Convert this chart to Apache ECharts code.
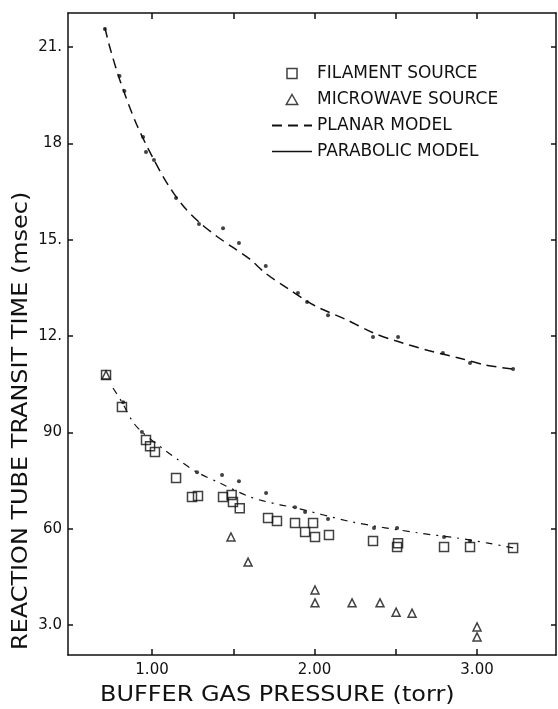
<!DOCTYPE html>
<html>
<head>
<meta charset="utf-8">
<script src="https://cdn.jsdelivr.net/npm/echarts@6/dist/echarts.min.js"></script>
<style>
  html, body { margin: 0; padding: 0; background: #fff; }
  #chart { width: 558px; height: 709px; }
</style>
</head>
<body>
<div id="chart"></div>
<script>
// upper branch: measured dots and planar model curve
const upperDotX = [0.71, 0.80, 0.83, 0.945, 0.963, 1.012, 1.148, 1.289, 1.437, 1.535, 1.70, 1.898, 1.954, 2.083, 2.36, 2.514, 2.79, 2.957, 3.222]
const upperDotY = [21.56, 20.10, 19.63, 18.20, 17.73, 17.48, 16.30, 15.49, 15.36, 14.90, 14.18, 13.34, 13.06, 12.65, 11.97, 11.97, 11.47, 11.16, 10.97]
const planarX = [0.71, 0.74, 0.80, 0.90, 1.00, 1.10, 1.20, 1.30, 1.40, 1.50, 1.60, 1.70, 1.83, 2.00, 2.20, 2.36, 2.50, 2.70, 2.90, 3.05, 3.22]
const planarY = [21.6, 21.0, 20.0, 18.65, 17.6, 16.7, 16.0, 15.5, 15.1, 14.75, 14.4, 13.95, 13.5, 12.95, 12.5, 12.1, 11.85, 11.55, 11.3, 11.1, 10.97]

// lower branch
const paraX = [0.76, 0.815, 0.883, 0.938, 1.062, 1.154, 1.277, 1.418, 1.603, 1.788, 1.868, 2.231, 2.637, 2.877, 3.068, 3.222]
const paraY = [10.38, 9.94, 9.32, 9.01, 8.51, 8.17, 7.76, 7.42, 6.99, 6.74, 6.67, 6.21, 5.87, 5.71, 5.55, 5.40]
const lowerDotX = [0.822, 0.938, 1.277, 1.431, 1.535, 1.702, 1.88, 1.942, 2.083, 2.366, 2.508, 2.797, 2.957]
const lowerDotY = [9.94, 9.01, 7.76, 7.67, 7.48, 7.11, 6.67, 6.52, 6.30, 6.02, 6.02, 5.74, 5.62]

// filament source (squares)
const filX = [0.717, 0.815, 0.963, 0.988, 1.018, 1.148, 1.246, 1.283, 1.437, 1.49, 1.498, 1.54, 1.714, 1.769, 1.88, 1.942, 1.991, 2.003, 2.089, 2.36, 2.508, 2.514, 2.797, 2.957, 3.222]
const filY = [10.79, 9.79, 8.76, 8.57, 8.39, 7.58, 6.99, 7.02, 6.99, 7.05, 6.83, 6.64, 6.33, 6.24, 6.18, 5.90, 6.18, 5.74, 5.80, 5.62, 5.43, 5.55, 5.43, 5.43, 5.40]

// microwave source (triangles)
const micX = [0.717, 1.486, 1.591, 2.003, 2.003, 2.231, 2.403, 2.502, 2.60, 3.0, 3.0]
const micY = [10.79, 5.74, 4.96, 4.09, 3.69, 3.69, 3.69, 3.40, 3.37, 2.94, 2.63]

// tick labels as printed
const xTickValues = [1, 2, 3]
const xTickLabels = ['1.00', '2.00', '3.00']
const xTickMarks = [1, 1.5, 2, 2.5, 3]
const yTickValues = [3, 6, 9, 12, 15, 18, 21]
const yTickLabels = ['3.0', '60', '90', '12.', '15.', '18', '21.']

const zip = (xs, ys) => xs.map((x, i) => [x, ys[i]])

const FONT = 'DejaVu Sans'
const INK = '#111'
const hollow = { color: 'rgba(0,0,0,0)', borderColor: INK, borderWidth: 1.5 }

const chart = echarts.init(document.getElementById('chart'))

const frameAxis = {
  axisLine: { show: true, lineStyle: { color: INK, width: 1.5 } },
  splitLine: { show: false }
}
const tickStyle = { color: INK, width: 1.5 }

const option = {
  animation: false,
  backgroundColor: '#fff',
  color: [INK],
  grid: { left: 68, right: 2, top: 13, bottom: 54 },
  legend: {
    orient: 'vertical',
    left: 266,
    top: 60,
    itemWidth: 40,
    itemHeight: 10,
    itemGap: 9,
    symbolKeepAspect: true,
    textStyle: { fontFamily: FONT, fontSize: 17, color: INK },
    data: [
      { name: 'FILAMENT SOURCE', icon: 'path://M0,0 H9 V9 H0 Z', itemStyle: hollow },
      { name: 'MICROWAVE SOURCE', icon: 'path://M4,0 L8,7 L0,7 Z', itemStyle: hollow },
      { name: 'PLANAR MODEL', itemStyle: { opacity: 0 } },
      { name: 'PARABOLIC MODEL', itemStyle: { opacity: 0 }, lineStyle: { type: 'solid', width: 1.5 } }
    ]
  },
  xAxis: [
    {
      type: 'value',
      min: 0.483,
      max: 3.486,
      ...frameAxis,
      axisTick: { show: true, inside: true, length: 6, customValues: xTickMarks, lineStyle: tickStyle },
      axisLabel: {
        customValues: xTickValues,
        formatter: v => xTickLabels[xTickValues.indexOf(v)],
        fontFamily: FONT, fontSize: 15, color: INK, margin: 8
      }
    },
    {
      type: 'value',
      position: 'top',
      min: 0.483,
      max: 3.486,
      ...frameAxis,
      axisTick: { show: true, inside: true, length: 6, customValues: xTickMarks, lineStyle: tickStyle },
      axisLabel: { show: false }
    }
  ],
  yAxis: [
    {
      type: 'value',
      min: 2.066,
      max: 22.06,
      ...frameAxis,
      axisTick: { show: true, inside: true, length: 5, customValues: yTickValues, lineStyle: tickStyle },
      axisLabel: {
        customValues: yTickValues,
        formatter: v => yTickLabels[yTickValues.indexOf(v)],
        fontFamily: FONT, fontSize: 15, color: INK, margin: 6
      }
    },
    {
      type: 'value',
      position: 'right',
      min: 2.066,
      max: 22.06,
      ...frameAxis,
      axisTick: { show: true, inside: true, length: 5, customValues: yTickValues, lineStyle: tickStyle },
      axisLabel: { show: false }
    }
  ],
  graphic: [
    {
      type: 'text',
      x: 100,
      y: 695,
      scaleX: 1.09,
      style: {
        text: 'BUFFER GAS PRESSURE (torr)', font: '22px "DejaVu Sans"', fill: INK,
        textAlign: 'left', textVerticalAlign: 'middle'
      }
    },
    {
      type: 'text',
      x: 22,
      y: 650,
      rotation: Math.PI / 2,
      scaleX: 1.14,
      style: {
        text: 'REACTION TUBE TRANSIT TIME (msec)', font: '21px "DejaVu Sans"', fill: INK,
        textAlign: 'left', textVerticalAlign: 'middle'
      }
    }
  ],
  series: [
    {
      name: 'PLANAR MODEL',
      type: 'line',
      data: zip(planarX, planarY),
      smooth: 0.3,
      symbol: 'none',
      itemStyle: { color: INK },
      lineStyle: { color: INK, width: 1.5, type: [10, 6] },
      z: 2
    },
    {
      name: 'PARABOLIC MODEL',
      type: 'line',
      data: zip(paraX, paraY),
      smooth: 0.3,
      symbol: 'none',
      itemStyle: { color: INK },
      lineStyle: { color: INK, width: 1.2, type: [7, 6, 2, 6] },
      z: 2
    },
    {
      name: 'upper dots',
      type: 'scatter',
      data: zip(upperDotX, upperDotY),
      symbol: 'circle',
      symbolSize: 4,
      itemStyle: { color: INK },
      z: 3
    },
    {
      name: 'lower dots',
      type: 'scatter',
      data: zip(lowerDotX, lowerDotY),
      symbol: 'circle',
      symbolSize: 4,
      itemStyle: { color: INK },
      z: 3
    },
    {
      name: 'FILAMENT SOURCE',
      type: 'scatter',
      data: zip(filX, filY),
      symbol: 'rect',
      symbolSize: 9,
      itemStyle: hollow,
      z: 4
    },
    {
      name: 'MICROWAVE SOURCE',
      type: 'scatter',
      data: zip(micX, micY),
      symbol: 'triangle',
      symbolSize: 8,
      itemStyle: hollow,
      z: 4
    }
  ]
}

chart.setOption(option)
</script>
</body>
</html>
